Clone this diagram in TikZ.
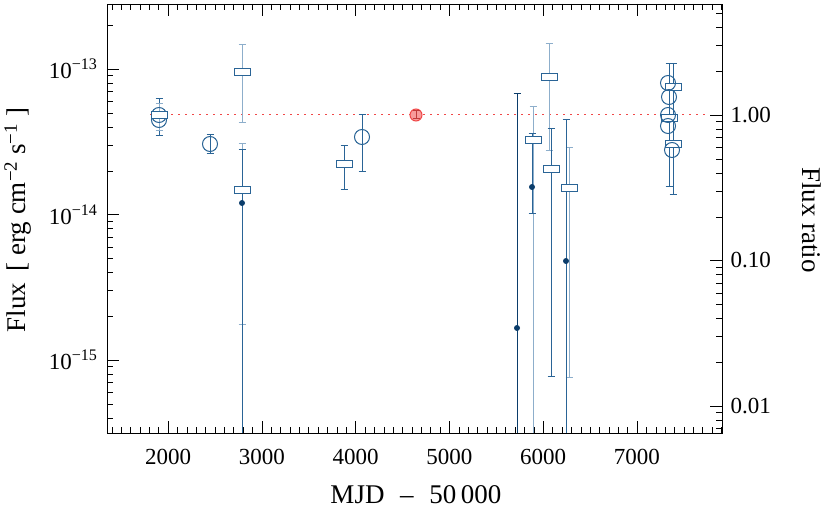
\documentclass[tikz,border=0pt]{standalone}
\usepackage{fontspec}
\setmainfont{Liberation Serif}
\usetikzlibrary{positioning}
\definecolor{fluxblue}{HTML}{2A6496}
\definecolor{lightblue}{HTML}{8DAECB}
\definecolor{darkblue}{HTML}{0B3D6B}
\definecolor{refred}{HTML}{F04848}
\tikzset{
  ticklab/.style={font=\fontsize{23}{26}\selectfont},
  axlab/.style={font=\fontsize{27}{30}\selectfont},
  circ/.style={draw=fluxblue,line width=1pt,fill=none},
  boxm/.style={draw=fluxblue,line width=1pt,fill=white},
}
% error bar: x, top, bottom, colour
\newcommand\ebar[4]{\draw[#4,line width=1pt] (#1,#2) -- (#1,#3)
  (#1-3.5,#2) -- (#1+3.5,#2) (#1-3.5,#3) -- (#1+3.5,#3);}
\newcommand\cmark[2]{\draw[circ] (#1,#2) circle (7.5);}
\newcommand\bmark[2]{\draw[boxm] (#1-8,#2-3.5) rectangle (#1+8,#2+3.5);}
\newcommand\dmark[2]{\fill[darkblue] (#1,#2) circle (3);}
\begin{document}
\begin{tikzpicture}[x=1pt,y=-1pt]
\useasboundingbox (0,0) rectangle (830,510);
% reference level
\draw[refred,line width=1pt,dash pattern=on 2pt off 5pt] (150,115) -- (706,115);
% bars
\ebar{159}{99}{136}{fluxblue}
\ebar{159}{104}{131}{lightblue}
\ebar{210}{135}{154}{fluxblue}
\ebar{242}{45}{123}{lightblue}
\ebar{242}{144}{325}{lightblue}
\ebar{242}{150}{433}{fluxblue}
\ebar{344}{146}{190}{fluxblue}
\ebar{362}{115}{172}{fluxblue}
\ebar{517}{94}{433}{darkblue}
\ebar{533}{107}{433}{lightblue}
\ebar{532}{134}{214}{fluxblue}
\ebar{549}{44}{151}{lightblue}
\ebar{551}{129}{377}{fluxblue}
\ebar{569}{148}{378}{lightblue}
\ebar{566}{120}{433}{fluxblue}
\ebar{669}{64}{187}{fluxblue}
\ebar{673}{64}{195}{fluxblue}
% markers
\cmark{159}{115}\cmark{159}{120}\bmark{159}{115}
\cmark{210}{144}
\bmark{242}{72}\bmark{242}{190}\dmark{242}{203}
\bmark{344}{164}
\cmark{362}{137}
\draw[refred,fill=refred!55,line width=1pt] (416,115) circle (6);
\ebar{416}{111}{119}{refred!80!black}
\dmark{517}{328}
\bmark{533}{140}\dmark{532}{187}
\bmark{549}{77}\bmark{551}{169}\bmark{569}{188}\dmark{566}{261}
\bmark{673}{87}\bmark{669}{118}\bmark{673}{144}
\cmark{668}{83}\cmark{669}{97}\cmark{668}{115}\cmark{668}{126}\cmark{672}{150}
% frame and ticks
\draw[line width=0.8pt] (107,4) rectangle (722,433);
\foreach \m in {14,...,79}{
  \pgfmathsetmacro\xx{168+(\m*100-2000)*0.0938}
  \pgfmathtruncatemacro\isbig{mod(\m,10)==0}
  \ifnum\isbig=1
    \draw (\xx,433) -- (\xx,421) (\xx,4) -- (\xx,16);
  \else
    \draw (\xx,433) -- (\xx,427) (\xx,4) -- (\xx,10);
  \fi}
\foreach \d in {-76.5,69,214.5,360,505.5}{
  \ifdim\d pt>4pt\ifdim\d pt<433pt \draw (107,\d) -- (119,\d);\fi\fi
  \foreach \k in {2,...,9}{
    \pgfmathsetmacro\yy{\d-145.5*log10(\k)}
    \ifdim\yy pt>4pt\ifdim\yy pt<433pt \draw (107,\yy) -- (113,\yy);\fi\fi}}
\foreach \d in {-30.5,115,260.5,406,551.5}{
  \ifdim\d pt>4pt\ifdim\d pt<433pt \draw (722,\d) -- (710,\d);\fi\fi
  \foreach \k in {2,...,9}{
    \pgfmathsetmacro\yy{\d-145.5*log10(\k)}
    \ifdim\yy pt>4pt\ifdim\yy pt<433pt \draw (722,\yy) -- (716,\yy);\fi\fi}}
% tick labels
\foreach \v in {2000,3000,...,7000}
  \node[ticklab] (x\v) at ({168+(\v-2000)*0.0938},457) {\v};
\node[ticklab,anchor=east] (ya) at (101,69) {10\textsuperscript{−13}};
\node[ticklab,anchor=east] (yb) at (101,214.5) {10\textsuperscript{−14}};
\node[ticklab,anchor=east] (yc) at (101,360) {10\textsuperscript{−15}};
\node[ticklab,anchor=west] (ra) at (727,115) {1.00};
\node[ticklab,anchor=west] (rb) at (727,260.5) {0.10};
\node[ticklab,anchor=west] (rc) at (727,406) {0.01};
% axis titles
\node[axlab] (xt) at (416,495) {MJD \,\,–\,\, 50\,000};
\node[axlab,rotate=90] (yt) at (18,220) {Flux \,[ erg cm\textsuperscript{−2} s\textsuperscript{−1} ]};
\node[axlab,rotate=-90] (rt) at (812,220) {Flux ratio};
\end{tikzpicture}
\end{document}
